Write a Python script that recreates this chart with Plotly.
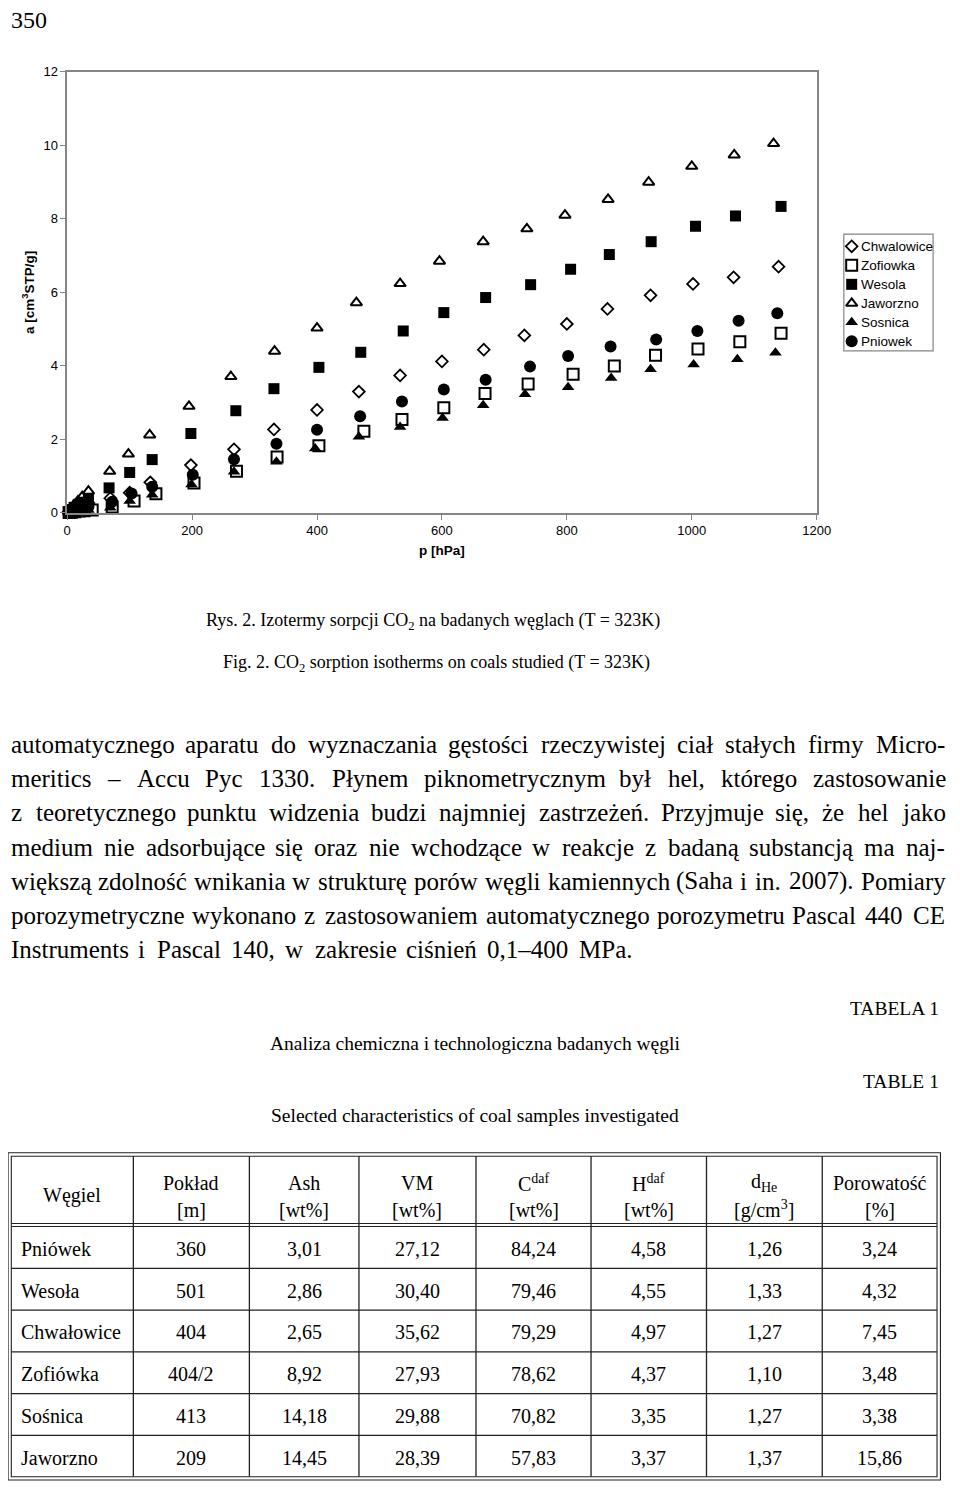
import plotly.graph_objects as go

# page is 960x1489; browser body keeps its default 8px margin
PAGE_W, PAGE_H = 960, 1489
BODY_MARGIN = 8
W, H = PAGE_W - 2 * BODY_MARGIN, PAGE_H - 2 * BODY_MARGIN

# ---------------- chart data ----------------
series_names = ["Chwalowice", "Zofiowka", "Wesola", "Jaworzno", "Sosnica", "Pniowek"]

p_chwalowice = [2, 6, 11, 17, 24, 34, 69, 100, 133, 198, 267, 331, 400, 467, 533, 600, 667, 732, 800, 865, 934, 1002, 1067, 1139]
a_chwalowice = [0.02, 0.06, 0.10, 0.15, 0.20, 0.27, 0.40, 0.55, 0.83, 1.30, 1.73, 2.27, 2.80, 3.30, 3.74, 4.12, 4.44, 4.83, 5.14, 5.55, 5.92, 6.23, 6.41, 6.70]

p_zofiowka = [3, 7, 12, 19, 27, 40, 72, 107, 142, 203, 271, 336, 403, 475, 536, 603, 669, 738, 810, 876, 942, 1010, 1077, 1143]
a_zofiowka = [0.01, 0.02, 0.03, 0.05, 0.06, 0.08, 0.16, 0.32, 0.52, 0.81, 1.13, 1.52, 1.83, 2.22, 2.54, 2.86, 3.25, 3.51, 3.77, 4.00, 4.29, 4.46, 4.66, 4.89]

p_wesola = [2, 6, 11, 17, 24, 34, 67, 100, 136, 198, 270, 331, 403, 470, 538, 603, 670, 742, 806, 868, 935, 1006, 1070, 1143]
a_wesola = [0.03, 0.09, 0.15, 0.21, 0.29, 0.39, 0.68, 1.10, 1.45, 2.16, 2.78, 3.38, 3.96, 4.37, 4.95, 5.45, 5.86, 6.21, 6.63, 7.03, 7.38, 7.80, 8.08, 8.34]

p_jaworzno = [2, 6, 11, 17, 24, 34, 68, 98, 132, 195, 262, 332, 400, 463, 533, 596, 666, 736, 797, 866, 931, 1000, 1068, 1131]
a_jaworzno = [0.05, 0.13, 0.22, 0.32, 0.44, 0.59, 1.13, 1.60, 2.12, 2.90, 3.71, 4.40, 5.03, 5.72, 6.24, 6.85, 7.38, 7.73, 8.10, 8.53, 9.00, 9.43, 9.74, 10.05]

p_sosnica = [2, 6, 11, 17, 24, 34, 69, 100, 136, 199, 267, 335, 397, 467, 533, 601, 666, 733, 802, 871, 934, 1003, 1073, 1134]
a_sosnica = [0.01, 0.02, 0.03, 0.05, 0.06, 0.08, 0.14, 0.32, 0.49, 0.77, 1.12, 1.39, 1.75, 2.07, 2.34, 2.58, 2.93, 3.23, 3.42, 3.67, 3.91, 4.04, 4.18, 4.36]

p_pniowek = [2, 6, 11, 17, 24, 34, 72, 103, 136, 201, 267, 335, 400, 469, 536, 603, 670, 741, 802, 870, 943, 1009, 1075, 1137]
a_pniowek = [0.01, 0.04, 0.07, 0.10, 0.13, 0.17, 0.30, 0.53, 0.71, 1.04, 1.46, 1.88, 2.26, 2.63, 3.03, 3.36, 3.62, 3.98, 4.27, 4.53, 4.72, 4.95, 5.23, 5.43]

series_p = [p_chwalowice, p_zofiowka, p_wesola, p_jaworzno, p_sosnica, p_pniowek]
series_a = [a_chwalowice, a_zofiowka, a_wesola, a_jaworzno, a_sosnica, a_pniowek]

x_ticks = [0, 200, 400, 600, 800, 1000, 1200]
y_ticks = [0, 2, 4, 6, 8, 10, 12]

# ---------------- text data ----------------
page_number = "350"
caption_pl = "Rys. 2. Izotermy sorpcji CO<sub>2</sub> na badanych węglach (T = 323K)"
caption_en = "Fig. 2. CO<sub>2</sub> sorption isotherms on coals studied (T = 323K)"

paragraph_lines = [
    "automatycznego aparatu do wyznaczania gęstości rzeczywistej ciał stałych firmy Micro-",
    "meritics – Accu Pyc 1330. Płynem piknometrycznym był hel, którego zastosowanie",
    "z teoretycznego punktu widzenia budzi najmniej zastrzeżeń. Przyjmuje się, że hel jako",
    "medium nie adsorbujące się oraz nie wchodzące w reakcje z badaną substancją ma naj-",
    "większą zdolność wnikania w strukturę porów węgli kamiennych (Saha i in. 2007). Pomiary",
    "porozymetryczne wykonano z zastosowaniem automatycznego porozymetru Pascal 440 CE",
    "Instruments i Pascal 140, w zakresie ciśnień 0,1–400 MPa.",
]
paragraph_right = [956, 956, 956, 956, 956, 956, 637]

table_label_pl = "TABELA 1"
table_title_pl = "Analiza chemiczna i technologiczna badanych węgli"
table_label_en = "TABLE 1"
table_title_en = "Selected characteristics of coal samples investigated"

header_top = ["Węgiel", "Pokład", "Ash", "VM", "C<sup>daf</sup>", "H<sup>daf</sup>", "d<sub>He</sub>", "Porowatość"]
header_bottom = ["", "[m]", "[wt%]", "[wt%]", "[wt%]", "[wt%]", "[g/cm<sup>3</sup>]", "[%]"]

coal_names = ["Pniówek", "Wesoła", "Chwałowice", "Zofiówka", "Sośnica", "Jaworzno"]
poklad = ["360", "501", "404", "404/2", "413", "209"]
ash = ["3,01", "2,86", "2,65", "8,92", "14,18", "14,45"]
vm = ["27,12", "30,40", "35,62", "27,93", "29,88", "28,39"]
c_daf = ["84,24", "79,46", "79,29", "78,62", "70,82", "57,83"]
h_daf = ["4,58", "4,55", "4,97", "4,37", "3,35", "3,37"]
d_he = ["1,26", "1,33", "1,27", "1,10", "1,27", "1,37"]
porowatosc = ["3,24", "4,32", "7,45", "3,48", "3,38", "15,86"]
table_columns = [coal_names, poklad, ash, vm, c_daf, h_daf, d_he, porowatosc]

# ---------------- styles ----------------
SANS = "Liberation Sans, Arial, sans-serif"
SERIF = "Liberation Serif, Times New Roman, serif"
AXIS_GRAY = "#858585"

marker_styles = [
    dict(symbol="diamond-open", size=9, color="black", line=dict(width=1.8, color="black")),
    dict(symbol="square-open", size=11, color="black", line=dict(width=2, color="black")),
    dict(symbol="square", size=11, color="black", line=dict(width=0)),
    dict(symbol="triangle-up-open", size=10, color="black", line=dict(width=2, color="black")),
    dict(symbol="triangle-up", size=11, color="black", line=dict(width=0)),
    dict(symbol="circle", size=12, color="black", line=dict(width=0)),
]


def fx(px):
    return (px - BODY_MARGIN) / W


def fy(py):
    return 1 - (py - BODY_MARGIN) / H


fig = go.Figure()

for name, ps, vals, mk in zip(series_names, series_p, series_a, marker_styles):
    fig.add_trace(go.Scatter(x=ps, y=vals, mode="markers", name=name, marker=mk,
                             cliponaxis=False, showlegend=False, xaxis="x", yaxis="y"))

# legend drawn on its own small axes
for i, (name, mk) in enumerate(zip(series_names, marker_styles)):
    fig.add_trace(go.Scatter(x=[8], y=[12.4 + 19.2 * i], mode="markers", marker=mk,
                             showlegend=False, xaxis="x2", yaxis="y2", cliponaxis=False,
                             hoverinfo="skip"))

annotations = []
shapes = []

for i, name in enumerate(series_names):
    annotations.append(dict(x=15, y=12.4 + 19.2 * i, xref="x2", yref="y2", text=name,
                            showarrow=False, xanchor="left", yanchor="middle",
                            font=dict(family=SANS, size=13.5, color="black")))
shapes.append(dict(type="rect", xref="paper", yref="paper", x0=fx(856), x1=fx(947),
                   y0=fy(347.3), y1=fy(229.3), line=dict(color=AXIS_GRAY, width=1.2)))

# page number
annotations.append(dict(x=fx(5), y=fy(13), xref="paper", yref="paper", text=page_number,
                        showarrow=False, xanchor="left", yanchor="middle",
                        font=dict(family=SERIF, size=24, color="black")))

# captions
annotations.append(dict(x=fx(437), y=fy(621), xref="paper", yref="paper", text=caption_pl,
                        showarrow=False, xanchor="center", yanchor="middle",
                        font=dict(family=SERIF, size=18, color="black")))
annotations.append(dict(x=fx(441), y=fy(663), xref="paper", yref="paper", text=caption_en,
                        showarrow=False, xanchor="center", yanchor="middle",
                        font=dict(family=SERIF, size=18, color="black")))

# justified paragraph, word by word (Times metrics)
TW = {}
for ch, w in zip("abcdefghijklmnopqrstuvwxyz",
                 [444, 500, 444, 500, 444, 333, 500, 500, 278, 278, 500, 278, 778, 500, 500, 500, 500, 333, 389, 278, 500, 500, 722, 500, 500, 444]):
    TW[ch] = w
for ch, w in zip("ABCDEFGHIJKLMNOPQRSTUVWXYZ",
                 [722, 667, 667, 722, 611, 556, 722, 722, 333, 389, 722, 611, 889, 722, 722, 556, 722, 667, 556, 611, 722, 722, 944, 722, 722, 611]):
    TW[ch] = w
TW.update({"ą": 444, "ę": 444, "ł": 278, "ś": 389, "ż": 444, "ń": 500, "ó": 500, "ć": 444, "Ł": 611,
           ",": 250, ".": 250, "-": 333, "–": 500, "(": 333, ")": 333})
for d in "0123456789":
    TW[d] = 500


def tw(s, size):
    return sum(TW.get(c, 500) for c in s) * size / 1000.0


PARA_SIZE = 25
for li, (line, right) in enumerate(zip(paragraph_lines, paragraph_right)):
    words = line.split(" ")
    widths = [tw(w, PARA_SIZE) for w in words]
    left = 5
    gap = (right - left - sum(widths)) / (len(words) - 1)
    xpos = left
    yline = 745 + 34.6 * li
    for w, wd in zip(words, widths):
        annotations.append(dict(x=fx(xpos), y=fy(yline), xref="paper", yref="paper", text=w,
                                showarrow=False, xanchor="left", yanchor="middle",
                                font=dict(family=SERIF, size=PARA_SIZE, color="black")))
        xpos += wd + gap

# table titles
for txt, xx, yy, anc in [(table_label_pl, 955, 1012, "right"), (table_title_pl, 480, 1047, "center"),
                         (table_label_en, 955, 1085, "right"), (table_title_en, 480, 1120, "center")]:
    annotations.append(dict(x=fx(xx), y=fy(yy), xref="paper", yref="paper", text=txt,
                            showarrow=False, xanchor=anc, yanchor="middle",
                            font=dict(family=SERIF, size=19.5, color="black")))

# table geometry
col_edges = [7.3, 131.7, 250, 361.7, 481, 598.3, 716, 834, 951]
row_top = 1232
row_h = 42.2
n_rows = len(coal_names)
TBL_SIZE = 20
LINE = "#222222"

# outer double border
for (x0, y0, x1, y1) in [(4, 1157.5, 954.5, 1488), (7.3, 1161, 951, 1484.8)]:
    shapes.append(dict(type="rect", xref="paper", yref="paper", x0=fx(x0), x1=fx(x1), y0=fy(y1), y1=fy(y0),
                       line=dict(color=LINE, width=1.1)))
# header double line
for yy in [1229, 1232]:
    shapes.append(dict(type="line", xref="paper", yref="paper", x0=fx(7.3), x1=fx(951), y0=fy(yy), y1=fy(yy),
                       line=dict(color=LINE, width=1.1)))
# row lines
for r in range(1, n_rows):
    yy = row_top + row_h * r
    shapes.append(dict(type="line", xref="paper", yref="paper", x0=fx(7.3), x1=fx(951), y0=fy(yy), y1=fy(yy),
                       line=dict(color=LINE, width=1.3)))
# column lines
for xx in col_edges[1:-1]:
    shapes.append(dict(type="line", xref="paper", yref="paper", x0=fx(xx), x1=fx(xx), y0=fy(1484.8), y1=fy(1161),
                       line=dict(color=LINE, width=1.3)))

# header text
for c in range(len(header_top)):
    cx = (col_edges[c] + col_edges[c + 1]) / 2
    if header_bottom[c]:
        annotations.append(dict(x=fx(cx), y=fy(1188), xref="paper", yref="paper", text=header_top[c],
                                showarrow=False, xanchor="center", yanchor="middle",
                                font=dict(family=SERIF, size=TBL_SIZE, color="black")))
        annotations.append(dict(x=fx(cx), y=fy(1215), xref="paper", yref="paper", text=header_bottom[c],
                                showarrow=False, xanchor="center", yanchor="middle",
                                font=dict(family=SERIF, size=TBL_SIZE, color="black")))
    else:
        annotations.append(dict(x=fx(cx), y=fy(1201), xref="paper", yref="paper", text=header_top[c],
                                showarrow=False, xanchor="center", yanchor="middle",
                                font=dict(family=SERIF, size=TBL_SIZE, color="black")))

# body cells
for r in range(n_rows):
    cy = row_top + row_h * (r + 0.5) + 1.5
    for c, col in enumerate(table_columns):
        if c == 0:
            xx, anc = 15, "left"
        else:
            xx, anc = (col_edges[c] + col_edges[c + 1]) / 2, "center"
        annotations.append(dict(x=fx(xx), y=fy(cy), xref="paper", yref="paper", text=col[r],
                                showarrow=False, xanchor=anc, yanchor="middle",
                                font=dict(family=SERIF, size=TBL_SIZE, color="black")))

fig.update_layout(
    width=W, height=H,
    margin=dict(l=0, r=0, t=0, b=0),
    paper_bgcolor="white", plot_bgcolor="white",
    showlegend=False,
    font=dict(family=SANS, color="black"),
    xaxis=dict(domain=[fx(64.3), fx(828.3)], range=[0, 1200], tickvals=x_ticks,
               ticks="outside", ticklen=5, tickwidth=1.3, tickcolor=AXIS_GRAY,
               showline=True, linecolor=AXIS_GRAY, linewidth=1.5, mirror=True,
               showgrid=False, zeroline=False, anchor="y",
               tickfont=dict(family=SANS, size=13, color="black"),
               title=dict(text="<b>p [hPa]</b>", font=dict(family=SANS, size=13.5, color="black"), standoff=8)),
    yaxis=dict(domain=[fy(511), fy(65.5)], range=[0, 12], tickvals=y_ticks,
               ticks="outside", ticklen=5, tickwidth=1.3, tickcolor=AXIS_GRAY,
               showline=True, linecolor=AXIS_GRAY, linewidth=1.5, mirror=True,
               showgrid=False, zeroline=False, anchor="x",
               tickfont=dict(family=SANS, size=13, color="black"),
               title=dict(text="<b>a [cm<sup>3</sup>STP/g]</b>", font=dict(family=SANS, size=13.5, color="black"), standoff=6)),
    xaxis2=dict(domain=[fx(856), fx(947)], range=[0, 91], visible=False, anchor="y2", fixedrange=True),
    yaxis2=dict(domain=[fy(347.3), fy(229.3)], range=[118, 0], visible=False, anchor="x2", fixedrange=True),
    annotations=annotations,
    shapes=shapes,
)

fig.write_html("out.html", config={"displayModeBar": False})
